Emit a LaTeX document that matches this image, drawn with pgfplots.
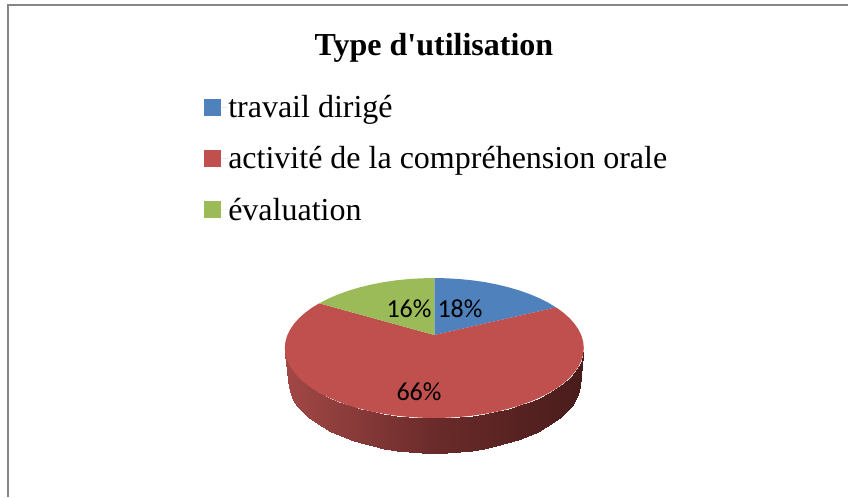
\documentclass[border=0pt]{standalone}
\usepackage{pgfplots}
\pgfplotsset{compat=1.18}
\usepackage{fontspec}
\setmainfont{Liberation Serif}
\newfontfamily\labelfont{Carlito}
\definecolor{sliceblue}{RGB}{79,129,189}
\definecolor{slicered}{RGB}{192,80,77}
\definecolor{slicegreen}{RGB}{155,187,89}
\definecolor{framegray}{RGB}{134,134,134}

\begin{document}
\begin{tikzpicture}
\begin{axis}[
    scale only axis,
    width=636pt,
    height=372.75pt,
    xmin=0, xmax=848,
    ymin=0, ymax=497,
    y dir=reverse,
    hide axis,
    clip=true,
    title={\fontsize{24}{28}\selectfont\bfseries Type d\textquotesingle utilisation},
    title style={at={(axis cs:434,63)},anchor=base,inner sep=0pt,yshift=0pt},
    legend style={
        at={(axis cs:204,95)},
        anchor=north west,
        draw=none,
        fill=none,
        font=\fontsize{24}{28}\selectfont,
        row sep=20.25pt,
        inner sep=0pt,
        nodes={inner sep=0pt},
    },
    legend cell align=left,
    legend image code/.code={
        \fill[#1] (0pt,-6.4pt) rectangle (12.75pt,6.4pt);
        \path (0pt,0pt) -- (18pt,0pt);
    },
    colormap={pieside}{rgb255=(162,72,70) rgb255=(106,43,42) rgb255=(72,28,27)},
    point meta min=285, point meta max=584,
]

% full canvas, so the page keeps the reference's size
\path (axis cs:0,0) -- (axis cs:848,497);

% outer frame, only left and top edges are visible
\addplot[forget plot, framegray, line width=1.5pt] coordinates {(8,497) (8,5) (848,5)};

% side wall, upper and lower rim of the visible half
\addplot[forget plot, surf, shader=interp, mesh/rows=2, point meta=x] table {
x y
583.8 348
583.2 354.1
581.5 360.2
578.7 366.1
574.8 371.9
569.8 377.6
563.8 383
556.8 388.2
548.8 393
540.0 397.5
530.4 401.6
520.1 405.3
509.1 408.6
497.5 411.4
485.4 413.8
473.0 415.6
460.3 416.9
447.3 417.7
434.3 418
421.3 417.7
408.3 416.9
395.6 415.6
383.2 413.8
371.1 411.4
359.5 408.6
348.5 405.3
338.2 401.6
328.6 397.5
319.8 393
311.8 388.2
304.8 383
298.8 377.6
293.8 371.9
289.9 366.1
287.1 360.2
285.4 354.1
284.8 348

580.3 381
579.7 387.3
578.1 393.5
575.3 399.6
571.5 405.6
566.6 411.4
560.7 417
553.9 422.3
546.1 427.3
537.5 431.9
528.1 436.2
518.0 440
507.3 443.4
496.0 446.3
484.2 448.7
472.1 450.5
459.6 451.9
447.0 452.7
434.3 453
421.6 452.7
409.0 451.9
396.5 450.5
384.4 448.7
372.6 446.3
361.3 443.4
350.6 440
340.5 436.2
331.1 431.9
322.5 427.3
314.7 422.3
307.9 417
302.0 411.4
297.1 405.6
293.3 399.6
290.5 393.5
288.9 387.3
288.3 381
};

% top face, blue slice
\addplot[fill=sliceblue, draw=none] coordinates {
(434.3,335) (556.0,307.4) (548.8,303) (540,298.5) (530.4,294.4) (520.1,290.7)
(509.1,287.4) (497.5,284.6) (485.4,282.2) (473,280.4) (460.3,279.1) (447.3,278.3)
(434.3,278) (434.3,335)
};
\addlegendentry{travail dirigé}

% top face, red slice
\addplot[fill=slicered, draw=none] coordinates {
(434.3,335) (556.0,307.4) (556.8,307.8) (563.8,313) (569.8,318.4) (574.8,324.1) (578.7,329.9)
(581.5,335.8) (583.2,341.9) (583.8,348) (583.2,354.1) (581.5,360.2) (578.7,366.1)
(574.8,371.9) (569.8,377.6) (563.8,383) (556.8,388.2) (548.8,393) (540,397.5)
(530.4,401.6) (520.1,405.3) (509.1,408.6) (497.5,411.4) (485.4,413.8) (473,415.6)
(460.3,416.9) (447.3,417.7) (434.3,418) (421.3,417.7) (408.3,416.9) (395.6,415.6)
(383.2,413.8) (371.1,411.4) (359.5,408.6) (348.5,405.3) (338.2,401.6) (328.6,397.5)
(319.8,393) (311.8,388.2) (304.8,383) (298.8,377.6) (293.8,371.9) (289.9,366.1)
(287.1,360.2) (285.4,354.1) (284.8,348) (285.4,341.9) (287.1,335.8) (289.9,329.9)
(293.8,324.1) (298.8,318.4) (304.8,313) (311.8,307.8) (319.3,303.3) (434.3,335)
};
\addlegendentry{activité de la compréhension orale}

% top face, green slice
\addplot[fill=slicegreen, draw=none] coordinates {
(434.3,335) (319.3,303.3) (319.8,303) (328.6,298.5) (338.2,294.4) (348.5,290.7) (359.5,287.4)
(371.1,284.6) (383.2,282.2) (395.6,280.4) (408.3,279.1) (421.3,278.3) (434.3,278)
(434.3,335)
};
\addlegendentry{évaluation}

\node[font=\labelfont\fontsize{19.5}{22}\selectfont] at (axis cs:460,309) {18\%};
\node[font=\labelfont\fontsize{19.5}{22}\selectfont] at (axis cs:409,309) {16\%};
\node[font=\labelfont\fontsize{19.5}{22}\selectfont] at (axis cs:419,392) {66\%};

\end{axis}
\end{tikzpicture}
\end{document}
